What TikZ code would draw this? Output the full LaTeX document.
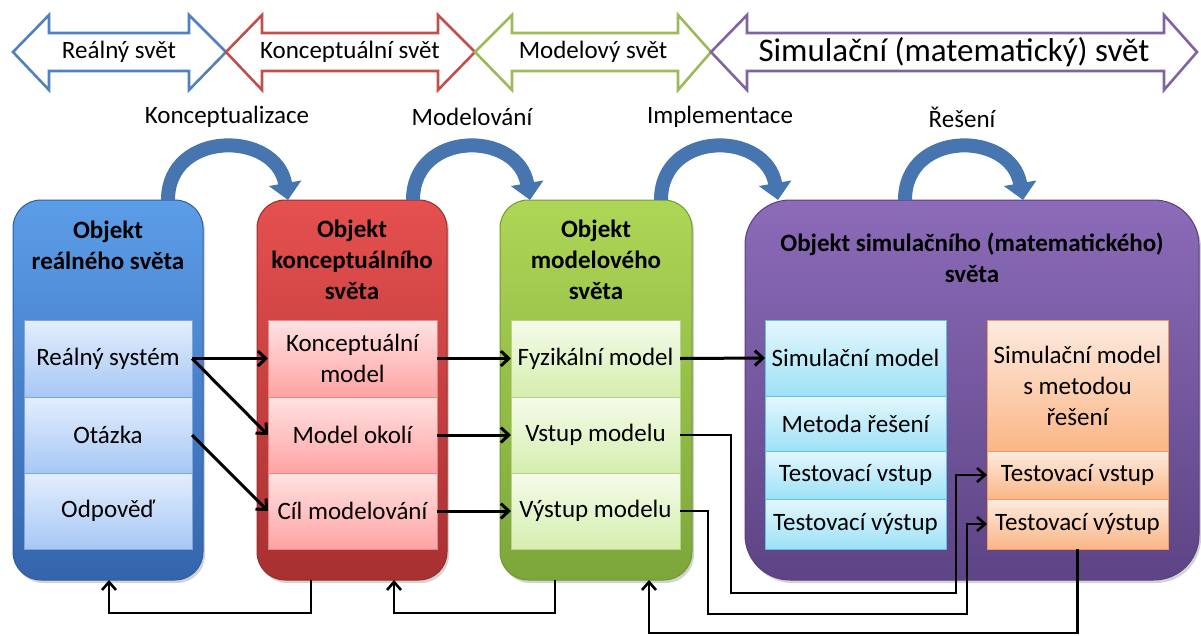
\documentclass[tikz,border=0pt]{standalone}
\usepackage{fontspec}
\setmainfont{Carlito}
\usetikzlibrary{arrows.meta,shadows,calc}
\definecolor{oblue}{HTML}{4F81BD}
\definecolor{ored}{HTML}{C0504D}
\definecolor{ogreen}{HTML}{9BBB59}
\definecolor{opurple}{HTML}{8064A2}
\definecolor{arcblue}{HTML}{4775B0}
\definecolor{bxbluet}{HTML}{5C9DE8}
\definecolor{bxblueb}{HTML}{3465AC}
\definecolor{bxbluel}{HTML}{2F5E9E}
\definecolor{bxredt}{HTML}{E65050}
\definecolor{bxredb}{HTML}{A83030}
\definecolor{bxredl}{HTML}{9A2C2C}
\definecolor{bxgreent}{HTML}{AED656}
\definecolor{bxgreenb}{HTML}{7CA63A}
\definecolor{bxgreenl}{HTML}{719A35}
\definecolor{bxpurpt}{HTML}{8C6BB8}
\definecolor{bxpurpb}{HTML}{5D4485}
\definecolor{bxpurpl}{HTML}{574080}
\definecolor{cbluet}{HTML}{E4EEFD}
\definecolor{cblueb}{HTML}{A6C7F5}
\definecolor{cbluel}{HTML}{7FA5DC}
\definecolor{credt}{HTML}{FFE2E2}
\definecolor{credb}{HTML}{FFA3A3}
\definecolor{credl}{HTML}{E58585}
\definecolor{cgreent}{HTML}{F5FBEA}
\definecolor{cgreenb}{HTML}{D5EEAE}
\definecolor{cgreenl}{HTML}{B5D48A}
\definecolor{ccyant}{HTML}{E4F7FD}
\definecolor{ccyanb}{HTML}{9DE1F7}
\definecolor{ccyanl}{HTML}{5FC2E0}
\definecolor{corant}{HTML}{FDEBDF}
\definecolor{coranb}{HTML}{FAB686}
\definecolor{coranl}{HTML}{F09A5C}
\newcommand\myfs{\fontsize{25}{31}\selectfont}
\newcommand\mybig{\fontsize{33}{38}\selectfont}
\newcommand\dblarrow[5]{%
  \draw[toparrow, draw=#5] (#1,52) -- (#2,15) -- (#2,33) -- (#3,33) -- (#3,15) -- (#4,52)
    -- (#3,90) -- (#3,71) -- (#2,71) -- (#2,90) -- cycle;}
\begin{document}
\begin{tikzpicture}[x=1pt,y=-1pt,
  toparrow/.style={line width=2.6pt, fill=white, line join=miter},
  lbl/.style={font=\myfs, inner sep=0pt},
  bigbox/.style={rounded corners=28pt, inner sep=0pt, outer sep=0pt, line width=1pt,
    drop shadow={shadow xshift=2pt, shadow yshift=-3pt, opacity=0.35}},
  title/.style={font=\myfs\bfseries, align=center, inner sep=0pt},
  cell/.style={draw, line width=0.9pt, inner sep=0pt, outer sep=0pt, align=center, font=\myfs},
  bcell/.style={cell, top color=cbluet, bottom color=cblueb, draw=cbluel, minimum width=168pt},
  rcell/.style={cell, top color=credt, bottom color=credb, draw=credl, minimum width=169pt},
  gcell/.style={cell, top color=cgreent, bottom color=cgreenb, draw=cgreenl, minimum width=169pt},
  ccell/.style={cell, top color=ccyant, bottom color=ccyanb, draw=ccyanl, minimum width=181pt},
  ocell/.style={cell, top color=corant, bottom color=coranb, draw=coranl, minimum width=181pt},
  conn/.style={line width=3pt, -{Straight Barb[length=8pt,width=15pt]}},
  fb/.style={line width=2.6pt, -{Straight Barb[length=8pt,width=14pt]}},
  curv/.style={line width=14pt, draw=arcblue, -{Triangle[width=32pt,length=17pt]}}
]
\useasboundingbox (0,0) rectangle (1201,635);

% top double arrows
\dblarrow{13}{49}{189}{226}{oblue}
\dblarrow{226}{262}{438}{475}{ored}
\dblarrow{475}{512}{678}{711}{ogreen}
\dblarrow{711}{747}{1164}{1197}{opurple}
\node[lbl] (w1) at (119,52) {Reálný svět};
\node[lbl] (w2) at (350,52) {Konceptuální svět};
\node[lbl] (w3) at (593,52) {Modelový svět};
\node[font=\mybig, inner sep=0pt] (w4) at (954,52) {Simulační (matematický) svět};

% process labels
\node[lbl] (p1) at (227,117) {Konceptualizace};
\node[lbl] (p2) at (472,117) {Modelování};
\node[lbl] (p3) at (720,117) {Implementace};
\node[lbl] (p4) at (962,117) {Řešení};

% big boxes
\node[bigbox, top color=bxbluet, bottom color=bxblueb, draw=bxbluel,
  minimum width=190pt, minimum height=380pt] (B) at (108,390) {};
\node[bigbox, top color=bxredt, bottom color=bxredb, draw=bxredl,
  minimum width=190pt, minimum height=380pt] (R) at (352,390) {};
\node[bigbox, top color=bxgreent, bottom color=bxgreenb, draw=bxgreenl,
  minimum width=192pt, minimum height=380pt] (G) at (596,390) {};
\node[bigbox, rounded corners=45pt, top color=bxpurpt, bottom color=bxpurpb, draw=bxpurpl,
  minimum width=454pt, minimum height=380pt] (P) at (972,390) {};

% titles
\node[title] (tB) at (108,245) {Objekt\\reálného světa};
\node[title] (tR) at (352,260) {Objekt\\konceptuálního\\světa};
\node[title] (tG) at (596,260) {Objekt\\modelového\\světa};
\node[title] (tP) at (972,258) {Objekt simulačního (matematického)\\světa};

% cells
\node[bcell, minimum height=77pt] (b1) at (108,358.5) {Reálný systém};
\node[bcell, minimum height=76pt] (b2) at (108,435) {Otázka};
\node[bcell, minimum height=76pt] (b3) at (108,511) {Odpověď};
\node[rcell, minimum height=77pt] (r1) at (352.5,358.5) {Konceptuální\\model};
\node[rcell, minimum height=76pt] (r2) at (352.5,435) {Model okolí};
\node[rcell, minimum height=76pt] (r3) at (352.5,511) {Cíl modelování};
\node[gcell, minimum height=77pt] (g1) at (595.5,358.5) {Fyzikální model};
\node[gcell, minimum height=76pt] (g2) at (595.5,435) {Vstup modelu};
\node[gcell, minimum height=76pt] (g3) at (595.5,511) {Výstup modelu};
\node[ccell, minimum height=76pt] (c1) at (855.5,358) {Simulační model};
\node[ccell, minimum height=55pt] (c2) at (855.5,423.5) {Metoda řešení};
\node[ccell, minimum height=48pt] (c3) at (855.5,475) {Testovací vstup};
\node[ccell, minimum height=50pt] (c4) at (855.5,524) {Testovací výstup};
\node[ocell, minimum height=131pt] (o1) at (1077.5,385.5) {Simulační model\\s metodou\\řešení};
\node[ocell, minimum height=48pt] (o2) at (1077.5,475) {Testovací vstup};
\node[ocell, minimum height=50pt] (o3) at (1077.5,524) {Testovací výstup};

% curved arrows
\draw[curv] ([xshift=60pt]B.north) .. controls +(0,-70) and +(-12,-70) .. ([xshift=-64pt]R.north);
\draw[curv] ([xshift=61pt]R.north) .. controls +(0,-70) and +(-12,-70) .. ([xshift=-66pt]G.north);
\draw[curv] ([xshift=65pt]G.north) .. controls +(0,-70) and +(-12,-70) .. ([xshift=-194pt]P.north);
\draw[curv] ([xshift=-67pt]P.north) .. controls +(0,-70) and +(-12,-70) .. ([xshift=51pt]P.north);

% connectors
\draw[conn] (b1.east) -- (r1.west);
\draw[conn] (b1.east) -- (r2.west);
\draw[conn] (b2.east) -- (r3.west);
\draw[conn] (r1.east) -- (g1.west);
\draw[conn] (r2.east) -- (g2.west);
\draw[conn] (r3.east) -- (g3.west);
\draw[conn] (g1.east) -- (c1.west);
\draw[fb] (g2.east) -| (731,593) -| (956,475) -- (o2.west);
\draw[fb] (g3.east) -| (708,614) -| (967,524) -- (o3.west);
\draw[fb] (o3.south) -- (o3.south |- 0,633) -| ([xshift=53pt]G.south);
\draw[fb] ([xshift=-41pt]R.south) -- ++(0,33) -| ([xshift=1pt]B.south);
\draw[fb] ([xshift=-41pt]G.south) -- ++(0,33) -| ([xshift=42pt]R.south);
\end{tikzpicture}
\end{document}
